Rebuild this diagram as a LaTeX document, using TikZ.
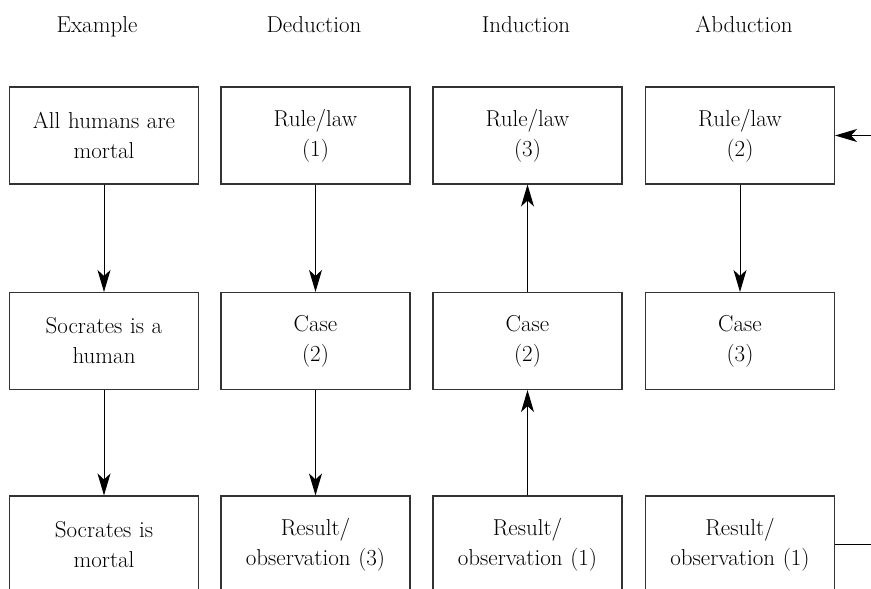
\documentclass[tikz,border=0pt]{standalone}
\usepackage{fontspec}
\usetikzlibrary{arrows.meta}
\tikzset{box/.style={draw=black!80, line width=1.1pt, minimum height=97pt, text width=165pt, inner xsep=12pt, inner ysep=0pt, align=center, text=black, font=\fontsize{23}{30}\selectfont},
%arrows between the boxes
flow/.style={-{Stealth[length=22pt,width=13pt,inset=6pt]}, line width=1pt},
heading/.style={anchor=base, text=black, font=\fontsize{23}{30}\selectfont}}

\begin{document}
\begin{tikzpicture}[x=1pt,y=-1pt]
\path[use as bounding box] (0,0) rectangle (871,589);
\clip (0,0) rectangle (871,589);

%headings
\node[heading] (te) at (97,32) {Example};
\node[heading] (td) at (314,32) {Deduction};
\node[heading] (ti) at (526,32) {Induction};
\node[heading] (ta) at (744,32) {Abduction};

% example
\node[box] (e1) at (104,135.5) {All humans are\\mortal};
\node[box] (e2) at (104,341) {Socrates is a\\human};
\node[box] (e3) at (104,544.5) {Socrates is\\mortal};
% deduction
\node[box] (d1) at (315.5,135.5) {Rule/law\\(1)};
\node[box] (d2) at (315.5,341) {Case\\(2)};
\node[box] (d3) at (315.5,544.5) {Result/\\observation (3)};
% induction
\node[box] (i1) at (527.5,135.5) {Rule/law\\(3)};
\node[box] (i2) at (527.5,341) {Case\\(2)};
\node[box] (i3) at (527.5,544.5) {Result/\\observation (1)};
% abduction
\node[box] (a1) at (740,135.5) {Rule/law\\(2)};
\node[box] (a2) at (740,341) {Case\\(3)};
\node[box] (a3) at (740,544.5) {Result/\\observation (1)};

\foreach \c in {e,d}{
  \draw[flow] (\c1.south) -- (\c2.north);
  \draw[flow] (\c2.south) -- (\c3.north);
}
\draw[flow] (i2.north) -- (i1.south);
\draw[flow] (i3.north) -- (i2.south);
\draw[flow] (a1.south) -- (a2.north);
\draw[flow] (a3.east) -- ++(60,0) |- (a1.east);

\end{tikzpicture}
\end{document}
